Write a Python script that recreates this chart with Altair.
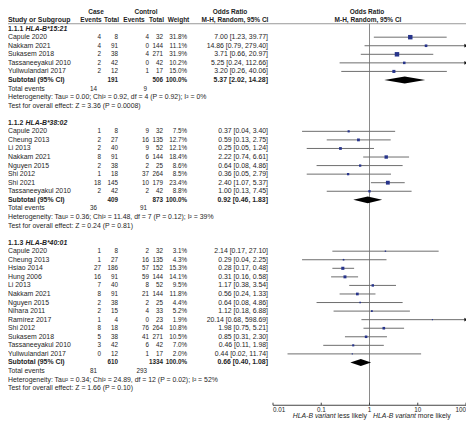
import altair as alt
import pandas as pd

FONT = "Liberation Sans"
FS = 6.9      # labels, odds-ratio column, captions
FSN = 6.3     # count / weight columns
FSH = 6.5     # column headers
TXT = "#1e1e1e"

# ---------------- data ----------------
section_codes = ["1.1.1", "1.1.2", "1.1.3"]
section_alleles = ["HLA-B*15:21", "HLA-B*38:02", "HLA-B*40:01"]

studies = [
    "Capule 2020", "Nakkam 2021", "Sukasem 2018", "Tassaneeyakul 2010", "Yuliwulandari 2017",
    "Capule 2020", "Cheung 2013", "Li 2013", "Nakkam 2021", "Nguyen 2015", "Shi 2012", "Shi 2021",
    "Tassaneeyakul 2010",
    "Capule 2020", "Cheung 2013", "Hsiao 2014", "Hung 2006", "Li 2013", "Nakkam 2021", "Nguyen 2015",
    "Nihara 2011", "Ramírez 2017", "Shi 2012", "Sukasem 2018", "Tassaneeyakul 2010", "Yuliwulandari 2017",
]
study_section = [0] * 5 + [1] * 8 + [2] * 13
case_events = [4, 4, 2, 2, 2, 1, 2, 2, 8, 2, 1, 18, 2, 1, 1, 27, 16, 7, 8, 2, 2, 1, 8, 5, 3, 0]
case_totals = [8, 91, 38, 42, 12, 8, 27, 40, 91, 38, 18, 145, 42, 8, 27, 186, 91, 40, 91, 38, 15, 4, 18, 38, 42, 12]
ctrl_events = [4, 0, 4, 0, 1, 9, 16, 9, 6, 2, 37, 10, 2, 2, 16, 57, 59, 8, 21, 2, 4, 0, 76, 41, 6, 1]
ctrl_totals = [32, 144, 271, 42, 17, 32, 135, 52, 144, 25, 264, 179, 42, 32, 135, 152, 144, 52, 144, 25, 33, 23,
               264, 271, 42, 17]
weights = [31.8, 11.1, 31.9, 10.2, 15.0, 7.5, 12.7, 12.1, 18.4, 8.6, 8.5, 23.4, 8.8,
           3.1, 4.3, 15.3, 14.1, 9.5, 11.8, 4.4, 5.2, 1.9, 10.8, 10.5, 7.0, 2.0]
odds = [7.00, 14.86, 3.71, 5.25, 3.20, 0.37, 0.59, 0.25, 2.22, 0.64, 0.36, 2.40, 1.00,
        2.14, 0.29, 0.28, 0.31, 1.17, 0.56, 0.64, 1.12, 20.14, 1.98, 0.85, 0.46, 0.44]
ci_low = [1.23, 0.79, 0.66, 0.24, 0.26, 0.04, 0.13, 0.05, 0.74, 0.08, 0.05, 1.07, 0.13,
          0.17, 0.04, 0.17, 0.16, 0.38, 0.24, 0.08, 0.18, 0.68, 0.75, 0.31, 0.11, 0.02]
ci_high = [39.77, 279.40, 20.97, 112.66, 40.06, 3.40, 2.75, 1.24, 6.61, 4.86, 2.79, 5.37, 7.45,
           27.10, 2.25, 0.48, 0.58, 3.54, 1.33, 4.86, 6.88, 598.69, 5.21, 2.30, 1.98, 11.74]

sub_case_total = [191, 409, 610]
sub_ctrl_total = [506, 873, 1334]
sub_or = [5.37, 0.92, 0.66]
sub_low = [2.02, 0.46, 0.40]
sub_high = [14.28, 1.83, 1.08]
tot_case_events = [14, 36, 81]
tot_ctrl_events = [9, 91, 293]
het_tau2 = ["0.00", "0.36", "0.34"]
het_chi2 = ["0.92", "11.48", "24.89"]
het_df = [4, 7, 12]
het_p = ["0.92", "0.12", "0.02"]
het_i2 = [0, 39, 52]
eff_z = ["3.36", "0.24", "1.66"]
eff_p = ["0.0008", "0.81", "0.10"]

tick_values = [0.01, 0.1, 1, 10, 100]
tick_labels = ["0.01", "0.1", "1", "10", "100"]
tick_align = ["left", "center", "center", "center", "right"]

# ---------------- layout (row indices) ----------------
rows_study = []
rows_header, rows_sub, rows_tot, rows_het, rows_test = [], [], [], [], []
r = 0
for s in range(3):
    rows_header.append(r)
    r += 1
    for i, sec in enumerate(study_section):
        if sec == s:
            rows_study.append(r)
            r += 1
    rows_sub.append(r)
    rows_tot.append(r + 1)
    rows_het.append(r + 2)
    rows_test.append(r + 3)
    r += 5
AXIS_ROW = rows_test[-1] + 2
HDR_LINE = -0.57

K = 8.56
yscale = alt.Scale(domain=[-2 - 3.5 / K, -2 + (412 - 3.5) / K], reverse=True, nice=False, zero=False)
xscale = alt.Scale(type="log", domain=[0.01, 100], range=[265, 458], nice=False)

# column anchors (px inside the chart)
C_CEV, C_CTOT, C_KEV, C_KTOT, C_W, C_OR = 93, 110, 141, 155, 179, 260


def X(field, scale):
    return alt.X(field, scale=scale, axis=None)


def Y(field):
    return alt.Y(field, scale=yscale, axis=None)


# ---------------- text table ----------------
texts = []


def add(row, x, s, align="left", fw="normal", st="normal", size=FS):
    texts.append(dict(row=row, x=x, t=str(s), align=align, fw=fw, st=st, size=size))


# header
add(-2, 88, "Case", "center", "bold", size=FSH)
add(-2, 138, "Control", "center", "bold", size=FSH)
add(-2, 222, "Odds Ratio", "center", "bold", size=FSH)
add(-2, 359, "Odds Ratio", "center", "bold", size=FSH)
add(-1, 0, "Study or Subgroup", "left", "bold")
add(-1, 83, "Events", "center", "bold", size=FSH)
add(-1, 103.5, "Total", "center", "bold", size=FSH)
add(-1, 126, "Events", "center", "bold", size=FSH)
add(-1, 148.5, "Total", "center", "bold", size=FSH)
add(-1, 170.5, "Weight", "center", "bold", size=FSH)
add(-1, 227, "M-H, Random, 95% CI", "center", "bold", size=FSH)
add(-1, 360, "M-H, Random, 95% CI", "center", "bold", size=FSH)

for s in range(3):
    add(rows_header[s], 0, section_codes[s], "left", "bold")
    add(rows_header[s], 17.5, section_alleles[s], "left", "bold", "italic")
    add(rows_sub[s], 0, "Subtotal (95% CI)", "left", "bold")
    add(rows_sub[s], C_CTOT, sub_case_total[s], "right", "bold", size=FSN)
    add(rows_sub[s], C_KTOT, sub_ctrl_total[s], "right", "bold", size=FSN)
    add(rows_sub[s], C_W, "100.0%", "right", "bold", size=FSN)
    add(rows_sub[s], C_OR, f"{sub_or[s]:.2f} [{sub_low[s]:.2f}, {sub_high[s]:.2f}]", "right", "bold")
    add(rows_tot[s], 0, "Total events")
    add(rows_tot[s], 89, tot_case_events[s], "right", size=FSN)
    add(rows_tot[s], 139, tot_ctrl_events[s], "right", size=FSN)
    add(rows_het[s], 0, f"Heterogeneity: Tau\u00b2 = {het_tau2[s]}; Chi\u00b2 = {het_chi2[s]}, "
                        f"df = {het_df[s]} (P = {het_p[s]}); I\u00b2 = {het_i2[s]}%")
    add(rows_test[s], 0, f"Test for overall effect: Z = {eff_z[s]} (P = {eff_p[s]})")

for i in range(len(studies)):
    rr = rows_study[i]
    add(rr, 0, studies[i])
    add(rr, C_CEV, case_events[i], "right", size=FSN)
    add(rr, C_CTOT, case_totals[i], "right", size=FSN)
    add(rr, C_KEV, ctrl_events[i], "right", size=FSN)
    add(rr, C_KTOT, ctrl_totals[i], "right", size=FSN)
    add(rr, C_W, f"{weights[i]:.1f}%", "right", size=FSN)
    add(rr, C_OR, f"{odds[i]:.2f} [{ci_low[i]:.2f}, {ci_high[i]:.2f}]", "right")

# axis captions (x in px)
add(AXIS_ROW + 1.3, 327.6, "HLA-B variant", "right", "normal", "italic")
add(AXIS_ROW + 1.3, 359, "less likely", "right")
add(AXIS_ROW + 1.3, 365, "HLA-B variant", "left", "normal", "italic")
add(AXIS_ROW + 1.3, 409.8, "more likely", "left")

tdf = pd.DataFrame(texts)

layers = []

# header separator line
hl = pd.DataFrame({"x": [0], "x2": [458], "row": [HDR_LINE]})
layers.append(alt.Chart(hl).mark_rule(color="#9a9a9a", strokeWidth=1).encode(
    x=X("x:Q", None), x2="x2:Q", y=Y("row:Q")))

# vertical line at OR = 1
vl = pd.DataFrame({"x": [1], "r1": [HDR_LINE], "r2": [AXIS_ROW]})
layers.append(alt.Chart(vl).mark_rule(color="#8a8a8a", strokeWidth=1).encode(
    x=X("x:Q", xscale), y=Y("r1:Q"), y2="r2:Q"))

# study CIs
sdf = pd.DataFrame({
    "row": rows_study, "or": odds, "lo": [max(v, 0.01) for v in ci_low],
    "hi": [min(v, 100) for v in ci_high], "w": weights, "hi_raw": ci_high,
})
layers.append(alt.Chart(sdf).mark_rule(color="#6e6e6e", strokeWidth=1).encode(
    x=X("lo:Q", xscale), x2="hi:Q", y=Y("row:Q")))

# arrows where CI exceeds axis
adf = sdf[sdf["hi_raw"] > 100]
layers.append(alt.Chart(adf).mark_point(shape="triangle-right", filled=True, color="#111111", size=14,
                                        opacity=1).encode(
    x=X("hi:Q", xscale), y=Y("row:Q")))

# squares
layers.append(alt.Chart(sdf).mark_square(color="#27348b", opacity=1).encode(
    x=X("or:Q", xscale), y=Y("row:Q"),
    size=alt.Size("w:Q", scale=alt.Scale(domain=[0, 32], range=[0, 20]), legend=None)))

# diamonds
H = 0.4
drows = []
for s in range(3):
    rr = rows_sub[s]
    drows += [
        dict(sec=s, x=sub_low[s], y1=rr, y2=rr),
        dict(sec=s, x=sub_or[s], y1=rr - H, y2=rr + H),
        dict(sec=s, x=sub_high[s], y1=rr, y2=rr),
    ]
ddf = pd.DataFrame(drows)
layers.append(alt.Chart(ddf).mark_area(color="#000000", opacity=1, interpolate="linear").encode(
    x=X("x:Q", xscale), y=Y("y1:Q"), y2="y2:Q", detail="sec:N"))

# axis line + ticks
al = pd.DataFrame({"a": [tick_values[0]], "b": [tick_values[-1]], "row": [AXIS_ROW]})
layers.append(alt.Chart(al).mark_rule(color="#444444", strokeWidth=1).encode(
    x=X("a:Q", xscale), x2="b:Q", y=Y("row:Q")))
tk = pd.DataFrame({"v": tick_values, "r1": [AXIS_ROW] * 5, "r2": [AXIS_ROW - 0.3] * 5,
                   "lab": tick_labels, "al": tick_align, "rl": [AXIS_ROW + 0.6] * 5})
layers.append(alt.Chart(tk).mark_rule(color="#444444", strokeWidth=1).encode(
    x=X("v:Q", xscale), y=Y("r1:Q"), y2="r2:Q"))
for a in ["left", "center", "right"]:
    layers.append(alt.Chart(tk[tk["al"] == a]).mark_text(
        align=a, baseline="middle", font=FONT, fontSize=FSN, color=TXT).encode(
        x=X("v:Q", xscale), y=Y("rl:Q"), text="lab:N"))

# table text
for (a, fw, st, sz), g in tdf.groupby(["align", "fw", "st", "size"]):
    layers.append(alt.Chart(g.reset_index(drop=True)).mark_text(
        align=a, baseline="middle", font=FONT, fontSize=float(sz), fontWeight=fw, fontStyle=st,
        color=TXT).encode(
        x=X("x:Q", None), y=Y("row:Q"), text="t:N"))

chart = alt.layer(*layers).resolve_scale(x="independent").properties(
    width=458, height=412, padding=0, autosize="none", background="white"
).configure_view(stroke=None)

chart.save("out.html", embed_options={"renderer": "svg", "actions": False})
